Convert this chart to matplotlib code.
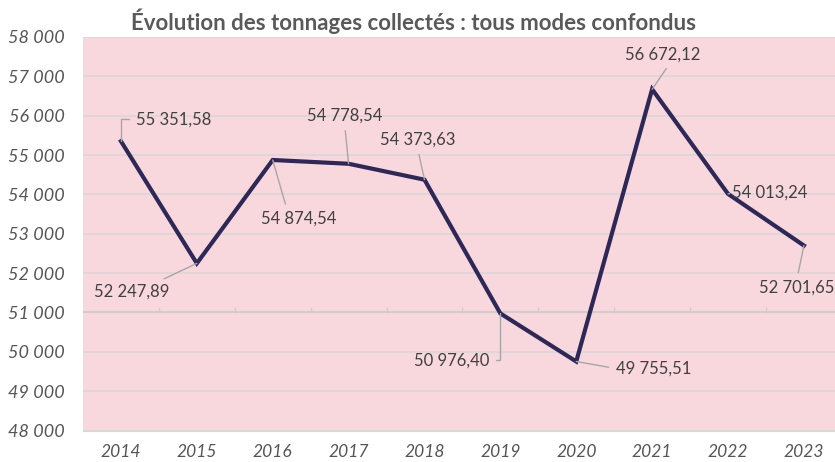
import matplotlib
matplotlib.use("Agg")
import matplotlib.pyplot as plt
from matplotlib.ticker import FuncFormatter, MultipleLocator

# ---------------------------------------------------------------------------
# Data
# ---------------------------------------------------------------------------
years = ["2014", "2015", "2016", "2017", "2018", "2019", "2020", "2021", "2022", "2023"]
tonnages = [55351.58, 52247.89, 54874.54, 54778.54, 54373.63,
            50976.40, 49755.51, 56672.12, 54013.24, 52701.65]

# label offsets (pixels) relative to each point, and where the leader line attaches
label_offsets = [(53, 22), (-65, -28), (26, -59), (-4, 48), (-7, 40),
                 (-49, -47), (77, -7), (11, 35), (42, 1), (-7, -42)]
leader_relpos = [(0, 0.5), (0.8, 1), (0.35, 1), (0.5, 0), (0.5, 0),
                 (1, 0.5), (0, 0.5), (0.6, 0), (0, 0.5), (0.5, 1)]
leader_style = ["angle,angleA=0,angleB=90,rad=0", "arc3", "arc3", "arc3", "arc3",
                "angle,angleA=0,angleB=90,rad=0", "arc3", "arc3", "arc3", "arc3"]

TITLE = "Évolution des tonnages collectés : tous modes confondus"

plt.rcParams["font.family"] = ["Lato", "DejaVu Sans"]

BG = "#F9D8DD"
GRID = "#D9D6D7"
LINE = "#2D2857"
TXT = "#404040"


def fr_int(v, pos=None):
    return f"{v:,.0f}".replace(",", " ")


def fr_dec(v):
    return f"{v:,.2f}".replace(",", " ").replace(".", ",")


fig = plt.figure(figsize=(8.35, 4.62), dpi=100)
ax = fig.add_axes([0.0994, 0.068, 0.9006, 0.852])
ax.set_facecolor(BG)

x = list(range(len(years)))
ax.plot(x, tonnages, color=LINE, linewidth=3, solid_joinstyle="miter", zorder=3)

ax.set_ylim(48000, 58000)
ax.set_xlim(-0.5, 9.41)
ax.yaxis.set_major_locator(MultipleLocator(1000))
ax.yaxis.set_major_formatter(FuncFormatter(fr_int))
ax.grid(axis="y", color=GRID, linewidth=1.2, zorder=1)
ax.set_axisbelow(True)

# horizontal axis crossing at 51 000 with small tick marks between categories
ax.axhline(51000, color="#CFCBCC", linewidth=1.2, zorder=2)
for b in x[:-1]:
    ax.plot([b + 0.5, b + 0.5], [51000, 51120], color="#CFCBCC", linewidth=1.0, zorder=2)

ax.set_xticks(x)
ax.set_xticklabels(years)
ax.tick_params(axis="x", length=0, pad=10)
ax.tick_params(axis="y", length=0, pad=13)
for lab in ax.get_xticklabels():
    lab.set_fontstyle("italic")
    lab.set_fontsize(12.5)
    lab.set_color("#555555")
for lab in ax.get_yticklabels():
    lab.set_fontstyle("italic")
    lab.set_fontsize(13)
    lab.set_color("#555555")

for s in ["top", "right", "left"]:
    ax.spines[s].set_visible(False)
ax.spines["bottom"].set_color(GRID)

# data labels with leader lines
for xi, v, (dx, dy), rp, cs in zip(x, tonnages, label_offsets, leader_relpos, leader_style):
    ax.annotate(fr_dec(v), xy=(xi, v), xytext=(dx, dy), textcoords="offset pixels",
                ha="center", va="center", fontsize=12, color=TXT,
                arrowprops=dict(arrowstyle="-", color="#A6A6A6", linewidth=1,
                                relpos=rp, shrinkA=3, shrinkB=0, connectionstyle=cs),
                zorder=4)

fig.text(0.495, 0.955, TITLE, ha="center", va="center", fontsize=16,
         fontweight="bold", color="#595959")

fig.savefig("out.png", dpi=100)
